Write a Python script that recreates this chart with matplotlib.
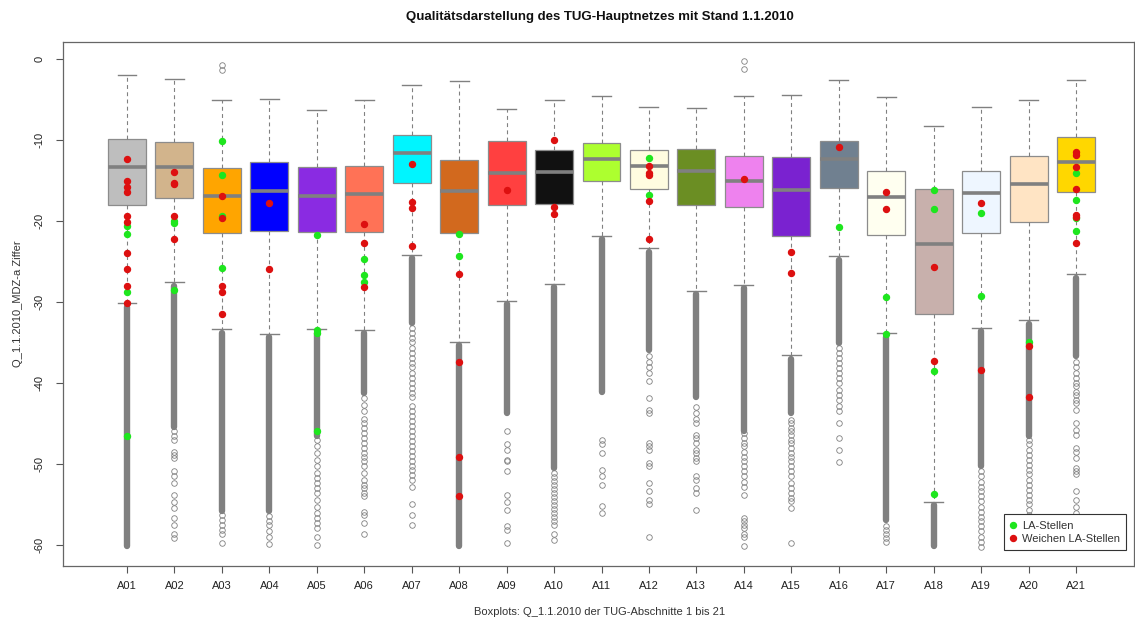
import matplotlib
matplotlib.use("Agg")
import matplotlib.pyplot as plt
from matplotlib.lines import Line2D

plt.rcParams["font.family"] = ["Liberation Sans", "DejaVu Sans"]

# ---- data -------------------------------------------------------------
sections = ["A%02d" % i for i in range(1, 22)]

box_colors = ["#BEBEBE", "#D2B48C", "#FFA500", "#0000FF", "#8A2BE2", "#FF7256",
              "#00F5FF", "#D2691E", "#FF4040", "#111111", "#ADFF2F", "#FFFCE0",
              "#6B8E23", "#EE82EE", "#7A22D0", "#708090", "#FFFFF0", "#C8B0AC",
              "#EEF6FF", "#FFE4C4", "#FFD700"]

whisker_hi = [-2.06, -2.5, -5.06, -5.0, -6.3, -5.06, -3.2, -2.76, -6.2, -5.14, -4.65,
              -6.0, -6.1, -4.65, -4.44, -2.6, -4.77, -8.35, -6.0, -5.14, -2.6]
q3 = [-9.9, -10.25, -13.5, -12.8, -13.4, -13.2, -9.35, -12.5, -10.1, -11.2, -10.4,
      -11.2, -11.15, -12.0, -12.1, -10.1, -13.8, -16.1, -13.8, -11.98, -9.63]
median = [-13.4, -13.4, -16.9, -16.3, -16.9, -16.75, -11.65, -16.3, -14.1, -13.95, -12.35,
          -13.25, -13.9, -15.06, -16.25, -12.35, -17.0, -22.8, -16.6, -15.5, -12.7]
q1 = [-18.1, -17.2, -21.5, -21.2, -21.4, -21.35, -15.35, -21.5, -18.0, -17.9, -15.06,
      -16.1, -18.1, -18.3, -21.85, -15.9, -21.8, -31.5, -21.5, -20.1, -16.5]
whisker_lo = [-30.2, -27.5, -33.4, -33.95, -33.4, -33.5, -24.2, -34.9, -29.9, -27.8, -21.9,
              -23.4, -28.6, -27.9, -36.6, -24.4, -33.9, -54.7, -33.2, -32.3, -26.6]

# ranges where outliers are so close together they merge into a solid column
dense_top = [-30.6, -28.0, -33.8, -34.3, -33.8, -33.9, -24.6, -35.3, -30.3, -28.2, -22.3,
             -23.8, -29.0, -28.3, -37.0, -24.8, -34.3, -55.1, -33.6, -32.7, -27.0]
dense_bottom = [-60.1, -45.4, -55.8, -55.8, -46.6, -41.3, -32.6, -60.1, -43.7, -50.5, -41.1,
                -35.9, -41.7, -46.0, -43.7, -35.1, -56.9, -60.1, -50.3, -46.5, -36.7]

# isolated outliers
outliers = [
    [],
    [-46.0, -46.6, -47.0, -48.5, -48.9, -49.3, -50.9, -51.5, -52.4, -53.8, -54.7, -55.5,
     -56.7, -57.5, -58.6, -59.2],
    [-0.8, -1.4, -56.3, -56.9, -57.5, -58.1, -58.7, -59.7],
    [-56.4, -57.0, -57.6, -58.3, -59.0, -59.9],
    [-47.0, -47.8, -48.7, -49.5, -50.3, -51.1, -51.8, -52.4, -53.0, -53.6, -54.4, -55.3,
     -56.1, -56.7, -57.3, -57.9, -59.0, -60.0],
    [-41.9, -42.7, -43.5, -44.4, -45.0, -45.6, -46.2, -46.8, -47.4, -48.0, -48.7, -49.1,
     -49.7, -50.3, -51.1, -52.0, -52.6, -53.0, -53.6, -54.0, -55.9, -56.3, -57.3, -58.6],
    [-33.2, -33.8, -34.4, -35.0, -35.7, -36.3, -36.9, -37.5, -38.1, -38.8, -39.4, -40.0,
     -40.6, -41.2, -41.8, -42.9, -43.5, -44.1, -44.7, -45.3, -45.9, -46.6, -47.2, -47.8,
     -48.4, -49.0, -49.6, -50.2, -50.8, -51.4, -52.0, -52.9, -54.9, -56.3, -57.6],
    [],
    [-46.0, -47.6, -48.3, -49.5, -49.7, -50.9, -53.8, -54.7, -55.7, -57.7, -58.2, -59.7],
    [-51.1, -51.6, -52.1, -52.6, -53.1, -53.6, -54.1, -54.6, -55.1, -55.6, -56.1, -56.6,
     -57.1, -57.6, -58.6, -59.4],
    [-47.0, -47.6, -48.7, -50.7, -51.5, -52.6, -55.2, -56.1],
    [-36.7, -37.4, -38.0, -38.8, -39.8, -41.9, -43.3, -43.7, -47.4, -47.8, -48.3, -49.9,
     -50.3, -52.4, -53.4, -54.4, -54.9, -59.0],
    [-43.0, -43.7, -44.4, -45.0, -46.4, -46.8, -47.4, -48.3, -48.7, -49.3, -49.7, -51.5,
     -52.0, -53.0, -53.6, -55.7],
    [-0.33, -1.3, -46.2, -46.8, -47.4, -47.8, -48.5, -49.1, -49.7, -50.3, -50.9, -51.5,
     -52.2, -52.8, -53.8, -56.7, -57.1, -57.5, -57.9, -58.6, -59.0, -60.1],
    [-44.6, -45.0, -45.6, -46.0, -46.4, -47.0, -47.4, -48.0, -48.7, -49.1, -49.7, -50.3,
     -50.9, -51.5, -52.4, -53.0, -53.6, -54.2, -54.6, -55.5, -59.8],
    [-35.7, -36.3, -36.9, -37.6, -38.2, -38.8, -39.4, -40.0, -40.9, -41.5, -42.1, -42.9,
     -43.5, -45.0, -46.8, -48.3, -49.8],
    [-57.7, -58.2, -58.6, -59.2, -59.6],
    [],
    [-50.9, -51.5, -52.2, -52.8, -53.4, -54.0, -54.6, -55.3, -55.9, -56.5, -57.1, -57.7,
     -58.3, -59.0, -59.6, -60.2],
    [-47.0, -47.6, -48.3, -48.9, -49.5, -50.1, -50.7, -51.3, -52.0, -52.6, -53.2, -53.8,
     -54.4, -55.0, -55.7, -56.3, -56.9, -57.7, -58.6, -59.4],
    [-37.4, -38.0, -38.8, -39.4, -40.0, -40.4, -41.1, -41.5, -42.1, -42.5, -43.3, -45.0,
     -45.8, -46.4, -48.0, -48.5, -49.3, -50.5, -50.9, -51.3, -53.4, -54.4, -55.3, -56.1,
     -56.9],
]

la_stellen = [
    [-20.6, -21.6, -28.8, -46.5], [-20.0, -20.3, -28.5], [-10.1, -14.4, -19.4, -25.8], [],
    [-21.7, -33.5, -33.9, -46.0], [-24.65, -26.7, -27.6], [], [-21.65, -24.4], [], [], [],
    [-12.3, -16.8], [], [], [], [-20.8], [-29.4, -33.95], [-16.25, -18.6, -38.5, -53.7],
    [-19.0, -29.3], [-35.0], [-14.1, -17.4, -19.6, -21.3],
]

weichen_la_stellen = [
    [-12.35, -15.1, -15.8, -16.4, -19.4, -20.2, -24.0, -26.0, -28.0, -30.1],
    [-13.95, -15.3, -15.5, -19.4, -22.3], [-16.9, -19.7, -28.1, -28.8, -31.5],
    [-17.8, -26.0], [], [-20.45, -22.7, -28.2], [-12.96, -17.65, -18.4, -23.1],
    [-26.6, -37.4, -49.1, -54.0], [-16.2], [-10.0, -18.3, -19.2], [],
    [-13.2, -14.1, -14.4, -17.6, -22.3], [], [-14.85], [-23.8, -26.4], [-10.9],
    [-16.5, -18.6], [-25.7, -37.3], [-17.8, -38.4], [-35.5, -41.7],
    [-11.5, -11.9, -13.4, -16.1, -19.3, -19.5, -22.7],
]

title = "Qualitätsdarstellung des TUG-Hauptnetzes mit Stand 1.1.2010"
x_label = "Boxplots: Q_1.1.2010 der TUG-Abschnitte 1 bis 21"
y_label = "Q_1.1.2010_MDZ-a Ziffer"
y_ticks = [0, -10, -20, -30, -40, -50, -60]

# ---- figure -----------------------------------------------------------
W, H = 1135, 621
fig = plt.figure(figsize=(W / 100, H / 100), dpi=100)
ax = fig.add_axes([63 / W, 1 - 566 / H, (1134 - 63) / W, (566 - 42) / H])

GREY = "#808080"
positions = list(range(1, len(sections) + 1))

stats = []
for i, name in enumerate(sections):
    stats.append(dict(label=name, med=median[i], q1=q1[i], q3=q3[i],
                      whislo=whisker_lo[i], whishi=whisker_hi[i], fliers=[]))

bp = ax.bxp(stats, positions=positions, widths=0.8, patch_artist=True,
            showfliers=False,
            boxprops=dict(edgecolor="#8C8C8C", linewidth=0.9),
            medianprops=dict(color=GREY, linewidth=2.6, solid_capstyle="butt"),
            whiskerprops=dict(color=GREY, linewidth=0.8, linestyle=(0, (3.5, 3))),
            capprops=dict(color=GREY, linewidth=1.0))
for patch, c in zip(bp["boxes"], box_colors):
    patch.set_facecolor(c)

# merged outlier columns
ax.vlines(positions, dense_bottom, dense_top, colors=GREY, linewidth=4.6,
          capstyle="round", zorder=3)

# isolated outliers as open circles
for x, vals in zip(positions, outliers):
    if vals:
        ax.plot([x] * len(vals), vals, linestyle="none", marker="o", markersize=4.0,
                markerfacecolor="none", markeredgecolor=GREY, markeredgewidth=0.6,
                zorder=3)

GREEN = "#1EE61E"
RED = "#DD1010"
for x, vals in zip(positions, la_stellen):
    if vals:
        ax.plot([x] * len(vals), vals, linestyle="none", marker="o", markersize=4.3,
                markerfacecolor=GREEN, markeredgecolor=GREEN, zorder=4)
for x, vals in zip(positions, weichen_la_stellen):
    if vals:
        ax.plot([x] * len(vals), vals, linestyle="none", marker="o", markersize=4.3,
                markerfacecolor=RED, markeredgecolor=RED, zorder=5)

# axes ranges
px_per_pos = 47.45
ax.set_xlim(1 - (127 - 63) / px_per_pos, 1 + (1134 - 127) / px_per_pos)
ax.set_ylim(-62.6, 2.07)

ax.set_xticks(positions)
ax.set_xticklabels(sections, fontsize=8, color="#222222")
ax.set_yticks(y_ticks)
ax.set_yticklabels([str(v) for v in y_ticks], fontsize=8, color="#222222",
                   rotation=90, va="center")
ax.tick_params(axis="both", length=5, width=0.8, color="#555555")
ax.tick_params(axis="x", pad=6)
ax.tick_params(axis="y", pad=8)
for s in ax.spines.values():
    s.set_color("#666666")
    s.set_linewidth(0.9)

fig.text(600 / W, 1 - 17 / H, title, ha="center", va="center", fontsize=9.5,
         fontweight="bold", color="#111111")
fig.text(600 / W, 1 - 612 / H, x_label, ha="center", va="center", fontsize=8,
         color="#333333")
fig.text(18 / W, 1 - 304 / H, y_label, ha="center", va="center", fontsize=8,
         rotation=90, color="#333333")

handles = [
    Line2D([], [], linestyle="none", marker="o", markersize=4.3,
           markerfacecolor=GREEN, markeredgecolor=GREEN, label="LA-Stellen"),
    Line2D([], [], linestyle="none", marker="o", markersize=4.3,
           markerfacecolor=RED, markeredgecolor=RED, label="Weichen LA-Stellen"),
]
leg = ax.legend(handles=handles, loc="lower right",
                bbox_to_anchor=((1126 - 63) / (1134 - 63), (566 - 550) / (566 - 42)),
                fontsize=8, frameon=True, fancybox=False, borderpad=0.55,
                handlelength=0.6, handletextpad=0.5, labelspacing=0.3,
                borderaxespad=0.0)
leg.get_frame().set_edgecolor("#333333")
leg.get_frame().set_linewidth(0.8)
leg.get_frame().set_alpha(None)
leg.get_frame().set_facecolor("white")
for t in leg.get_texts():
    t.set_color("#333333")

fig.savefig("out.png", dpi=100)
